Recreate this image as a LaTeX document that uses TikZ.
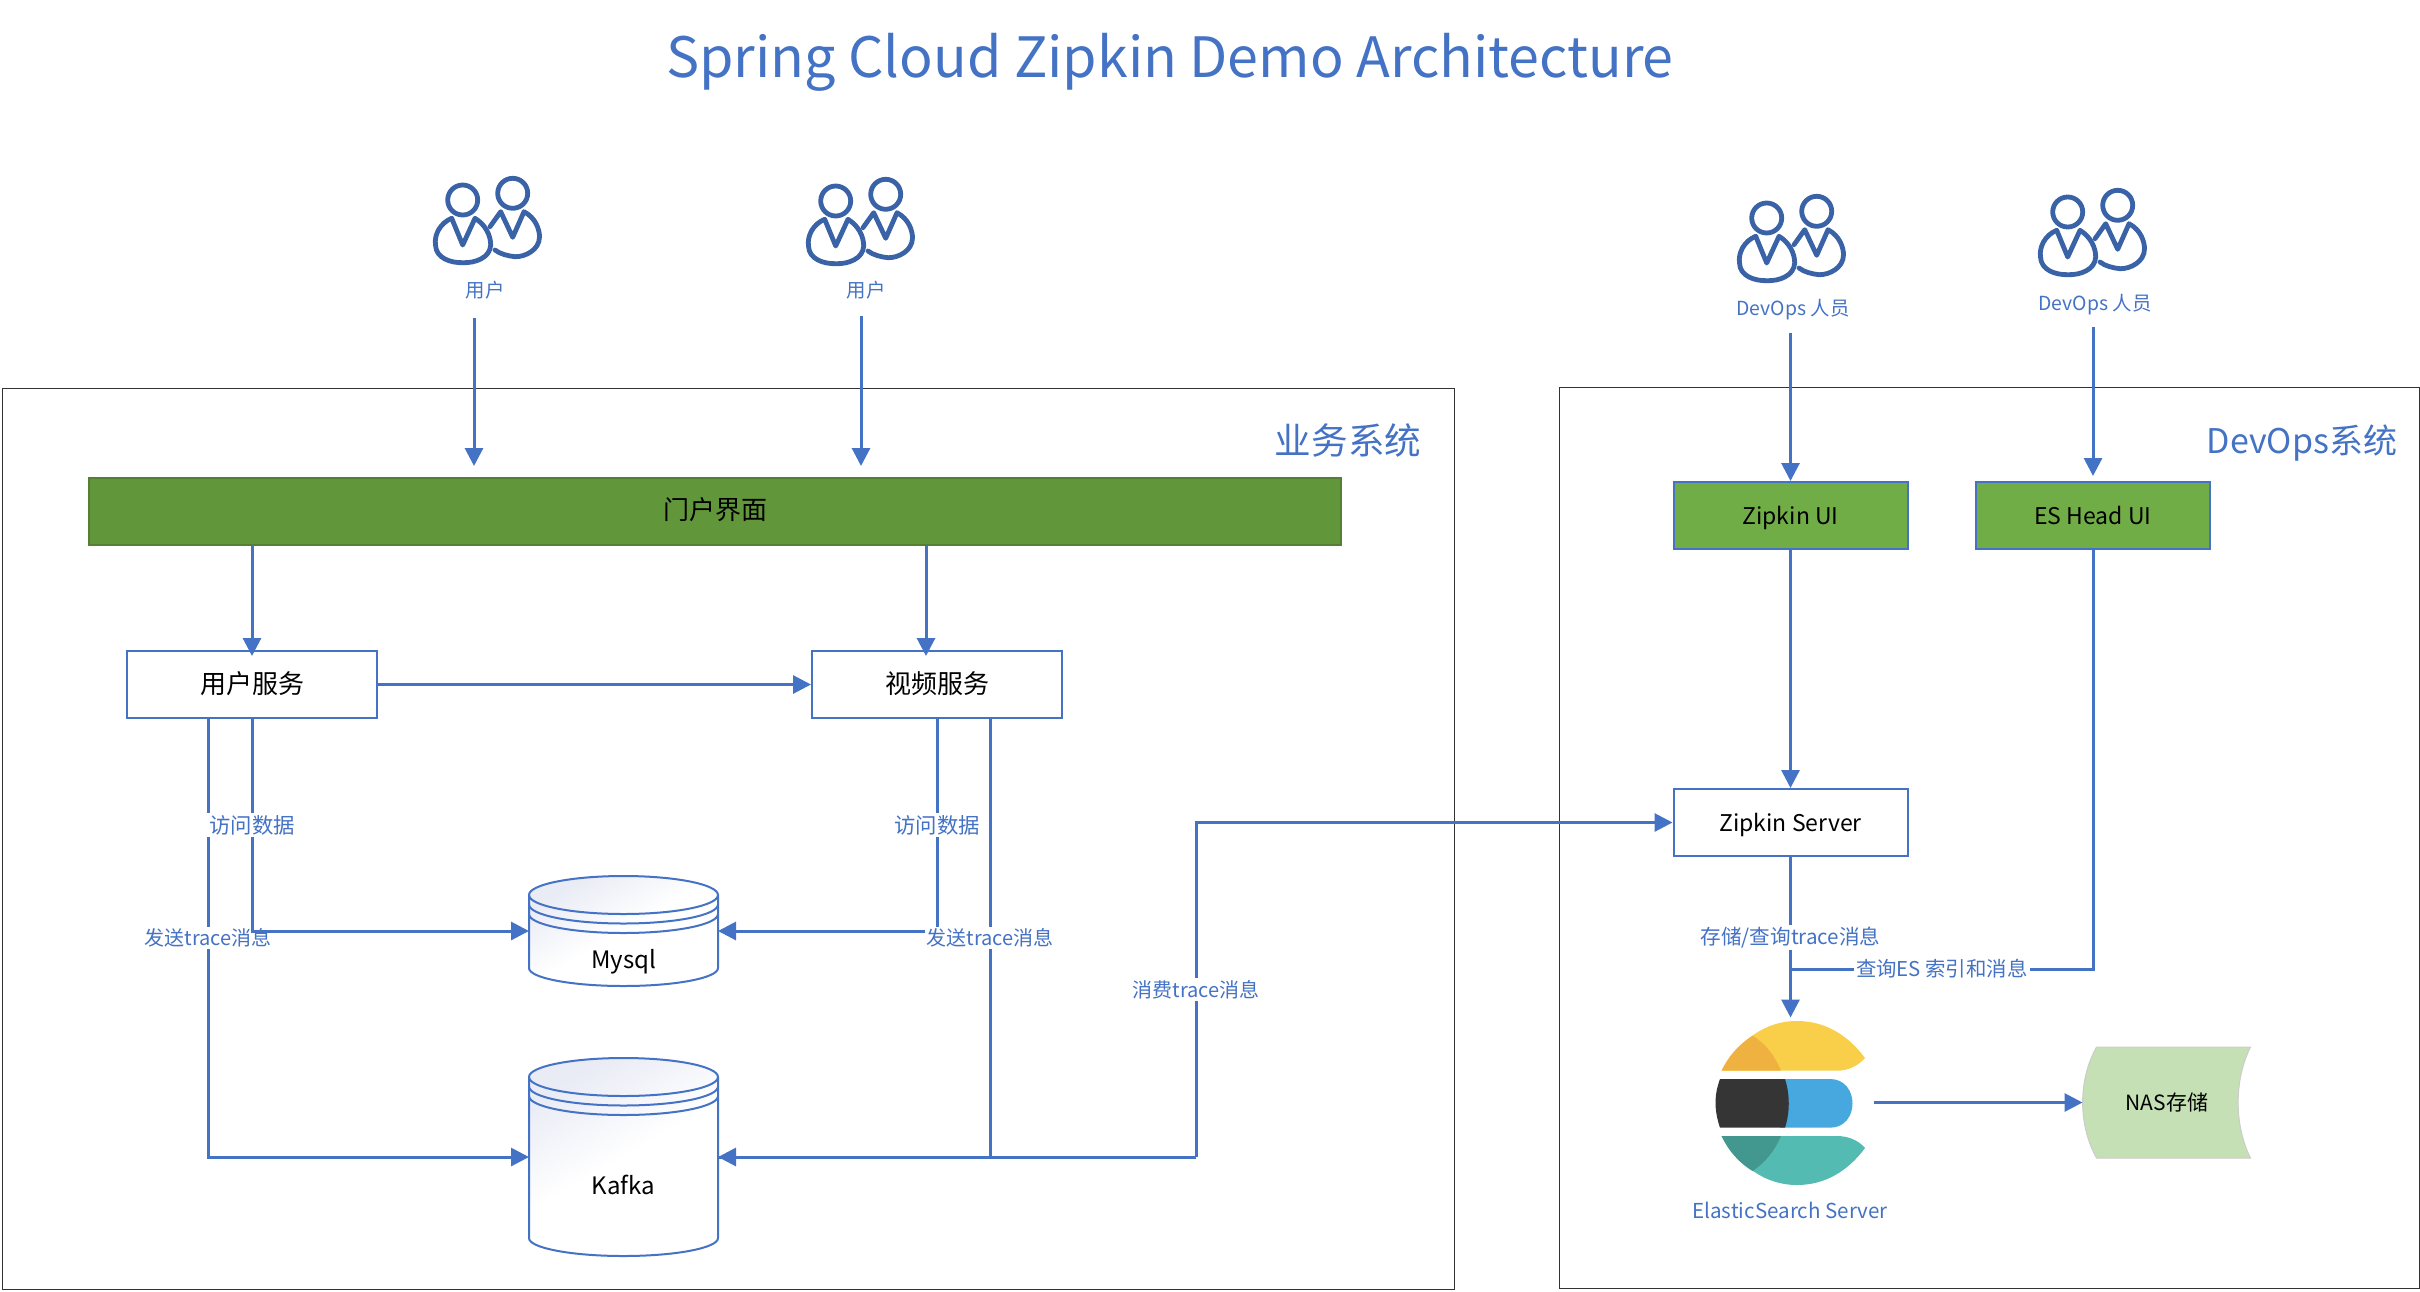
\documentclass[tikz,border=0pt]{standalone}
\usepackage{fontspec}
\usepackage{xcolor}
\setmainfont{Noto Sans CJK SC}
\usetikzlibrary{arrows.meta}
\definecolor{lineblue}{HTML}{4472C4}
\definecolor{iconblue}{HTML}{3A62A6}
\definecolor{portalgreen}{HTML}{62963B}
\definecolor{uigreen}{HTML}{70AD47}
\definecolor{dbtint}{HTML}{E9EBF5}
\definecolor{nasgreen}{HTML}{C5E0B4}
\definecolor{esyellow}{HTML}{F9CF4A}
\definecolor{esorange}{HTML}{EFB13F}
\definecolor{esdark}{HTML}{353535}
\definecolor{esblue}{HTML}{47A8E0}
\definecolor{esteal}{HTML}{53BBB1}
\definecolor{esdeep}{HTML}{42978E}
\tikzset{
  conn/.style={draw=lineblue,line width=1.5pt,-{Triangle[length=9pt,width=9pt]}},
  plainconn/.style={draw=lineblue,line width=1.5pt},
  syspanel/.style={draw=black!80,line width=.5pt,anchor=north west,inner sep=0pt},
  svcbox/.style={draw=lineblue,line width=1pt,fill=white,minimum width=125,minimum height=33.5,inner sep=0pt,text height=1em,text depth=.12em,font=\fontsize{13}{15}\selectfont},
  uibox/.style={svcbox,fill=uigreen,minimum width=117,font=\fontsize{11.5}{14}\selectfont},
  srvbox/.style={svcbox,minimum width=117,font=\fontsize{11.5}{14}\selectfont},
  lab/.style={text=lineblue,fill=white,inner sep=1pt,font=\fontsize{10}{12}\selectfont},
  cjklab/.style={lab,font=\fontsize{10.7}{12}\selectfont},
  usertext/.style={text=lineblue,inner sep=0pt,font=\fontsize{9.7}{12}\selectfont},
  systitle/.style={text=lineblue,inner sep=0pt,font=\fontsize{18.3}{21}\selectfont},
  dbbox/.style={minimum width=94.5,inner sep=0pt,outer sep=0pt},
  dbtext/.style={inner sep=0pt,font=\fontsize{12}{14}\selectfont},
  iconline/.style={draw=iconblue,line width=2.4pt,line cap=round,line join=round},
  people/.pic={
    \draw[iconline] (62.7,50) circle [radius=15];
    \draw[iconline] (112.7,43.3) circle [radius=15];
    \draw[iconline] (51.7,68.3) -- (62.7,95) -- (75,68.3) .. controls (86,75) and (90.7,86) .. (90.7,95)
      .. controls (90,108) and (75,113) .. (63.3,112.7) .. controls (50,113) and (36,108) .. (35.5,95)
      .. controls (34,85) and (40,73) .. (51.7,68.3);
    \draw[iconline] (90,76.7) -- (100.7,61.7) -- (112.7,87.3) -- (124,61.7) .. controls (136,68) and (139.5,80) .. (139.5,86.7)
      .. controls (139.5,100) and (125,107) .. (115,106.7) .. controls (108,106) and (100,104) .. (95,100);
  }
}
\newcommand{\dbshape}[1]{%
  \path[draw=lineblue,line width=1pt,top color=dbtint,bottom color=white,middle color=white,shading angle=30]
    ([yshift=-9.5pt]#1.north west) arc [start angle=180,end angle=0,x radius=47.25pt,y radius=9.5pt] -- ([yshift=9pt]#1.south east)
    arc [start angle=0,end angle=-180,x radius=47.25pt,y radius=9pt] -- cycle;
  \draw[lineblue,line width=1pt] ([yshift=-9.5pt]#1.north west) arc [start angle=180,end angle=360,x radius=47.25pt,y radius=9.5pt];
  \draw[lineblue,line width=1pt] ([yshift=-14.25pt]#1.north west) arc [start angle=180,end angle=360,x radius=47.25pt,y radius=9.5pt];
  \draw[lineblue,line width=1pt] ([yshift=-19pt]#1.north west) arc [start angle=180,end angle=360,x radius=47.25pt,y radius=9.5pt];
}
\begin{document}
\begin{tikzpicture}[x=.5pt,y=-.5pt]
\useasboundingbox (0,0) rectangle (2420,1291);

\node[text=lineblue,inner sep=0pt,font=\fontsize{27.8}{33}\selectfont] (title) at (1170,62) {Spring Cloud Zipkin Demo Architecture};

\node[syspanel,minimum width=726,minimum height=450.5] (bizpanel) at (2,387.5) {};
\node[syspanel,minimum width=430,minimum height=450.5] (opspanel) at (1558.5,386.5) {};
\node[systitle] (biztitle) at (1348,440) {业务系统};
\node[systitle,font=\fontsize{17}{21}\selectfont] (opstitle) at (2302,443) {DevOps系统};

\pic at (400,150) {people};
\pic at (773,151) {people};
\pic at (1704,168) {people};
\pic at (2005,162) {people};
\node[usertext] (userA) at (485,290) {用户};
\node[usertext] (userB) at (866,290) {用户};
\node[usertext] (opsA) at (1793,310) {DevOps 人员};
\node[usertext] (opsB) at (2095,305) {DevOps 人员};

\node[svcbox,draw=portalgreen!85!black,fill=portalgreen,minimum width=626] (portal) at (715,511) {门户界面};
\node[svcbox] (usersvc) at (252,684.5) {用户服务};
\node[svcbox] (videosvc) at (937,684.5) {视频服务};
\node[uibox] (zipkinui) at (1790.5,515.5) {Zipkin UI};
\node[uibox] (esheadui) at (2093,515.5) {ES Head UI};
\node[srvbox] (zserver) at (1790.5,822.5) {Zipkin Server};

\node[dbbox,minimum height=55] (mysql) at (623.5,931) {};
\node[dbbox,minimum height=99] (kafka) at (623.5,1157) {};
\dbshape{mysql}
\dbshape{kafka}
\node[dbtext] (mysqltext) at (623.5,962) {Mysql};
\node[dbtext] (kafkatext) at (623.5,1185) {Kafka};

% elasticsearch logo
\node[minimum width=75,minimum height=82,inner sep=0pt,outer sep=0pt] (es) at (1790.5,1102.5) {};
\fill[esyellow] (1721.5,1070.7) .. controls (1740,1040) and (1765,1021) .. (1797,1021)
  .. controls (1825,1021) and (1848,1035) .. (1865,1058) .. controls (1858,1066) and (1848,1070.7) .. (1836.6,1070.7) -- cycle;
\fill[esorange] (1721.5,1070.7) .. controls (1728,1057) and (1738,1045) .. (1752.5,1035.7) .. controls (1766,1044) and (1775,1056) .. (1781,1070.7) -- cycle;
\fill[esblue] (1780,1079) -- (1830,1079) .. controls (1860,1079) and (1860,1127.7) .. (1830,1127.7) -- (1780,1127.7) -- cycle;
\fill[esdark] (1720,1079) -- (1785,1079) .. controls (1790,1095) and (1790,1112) .. (1785,1127.7) -- (1720,1127.7) .. controls (1714,1110) and (1714,1095) .. (1720,1079);
\fill[esteal] (1721.5,1136) .. controls (1740,1166) and (1765,1185) .. (1797,1185)
  .. controls (1825,1185) and (1848,1171) .. (1865,1148) .. controls (1858,1140) and (1848,1136) .. (1836.6,1136) -- cycle;
\fill[esdeep] (1721.5,1136) .. controls (1728,1150) and (1738,1162) .. (1752.5,1171) .. controls (1766,1162) and (1775,1150) .. (1781,1136) -- cycle;
\node[text=lineblue,inner sep=0pt,font=\fontsize{10.3}{13}\selectfont] (estext) at (1790,1210) {ElasticSearch Server};

\node[minimum width=84,minimum height=55.5,inner sep=0pt,outer sep=0pt] (nas) at (2166.5,1102.5) {};
\path[fill=nasgreen,draw=black!20,line width=.5pt] (2096.5,1047) -- (2250.5,1047)
  .. controls (2234,1080) and (2234,1125) .. (2250.5,1158) -- (2096.5,1158) .. controls (2078,1125) and (2078,1080) .. (2096.5,1047) -- cycle;
\node[inner sep=0pt,font=\fontsize{10.5}{12}\selectfont] (nastext) at (2167,1102) {NAS存储};

% free ends
\coordinate (userAout) at (474,318);
\coordinate (userAin) at (474,466);
\coordinate (userBout) at (861,316);
\coordinate (userBin) at (861,466);
\coordinate (opsAout) at (1790.5,333);
\coordinate (opsBout) at (2093,327);
\coordinate (busup) at (1196,822.5);
\coordinate (busdown) at (1196,1157);
\coordinate (esjoin) at (1790.5,969);

\draw[conn] (userAout) -- (userAin);
\draw[conn] (userBout) -- (userBin);
\draw[conn] (opsAout) -- (zipkinui.north);
\draw[conn] (opsBout) -- ([yshift=2.5pt]esheadui.north);
\draw[conn] (usersvc.north |- portal.south) -- ([yshift=-3pt]usersvc.north);
\draw[conn] ([xshift=-5.5pt]videosvc.north |- portal.south) -- ([xshift=-5.5pt,yshift=-3pt]videosvc.north);
\draw[conn] (usersvc.east) -- (videosvc.west);
\draw[conn] (zipkinui.south) -- (zserver.north);
\draw[conn] ([xshift=-22pt]usersvc.south) |- node[lab,pos=.25] (labB) {发送trace消息} (kafka.west);
\draw[conn] (usersvc.south) |- node[cjklab,pos=.25] (labA) {访问数据} (mysql.west);
\draw[conn] (videosvc.south) |- node[cjklab,pos=.25] (labC) {访问数据} (mysql.east);
\draw[conn] ([xshift=26.5pt]videosvc.south) |- node[lab,pos=.25] (labD) {发送trace消息} (kafka.east);
\draw[conn] (busdown) -- node[lab,midway] (labE) {消费trace消息} (busup) -- (zserver.west);
\draw[plainconn] (kafka.east) -- (busdown);
\draw[conn] (zserver.south) -- node[lab,pos=.5,font=\fontsize{10.3}{12}\selectfont] (labF) {存储/查询trace消息} ([yshift=1.5pt]es.north);
\draw[plainconn] (esheadui.south) |- node[lab,pos=.75,font=\fontsize{10.2}{12}\selectfont] (labG) {查询ES 索引和消息} (esjoin);
\draw[conn] ([xshift=4pt]es.east) -- (nas.west);
\end{tikzpicture}
\end{document}
